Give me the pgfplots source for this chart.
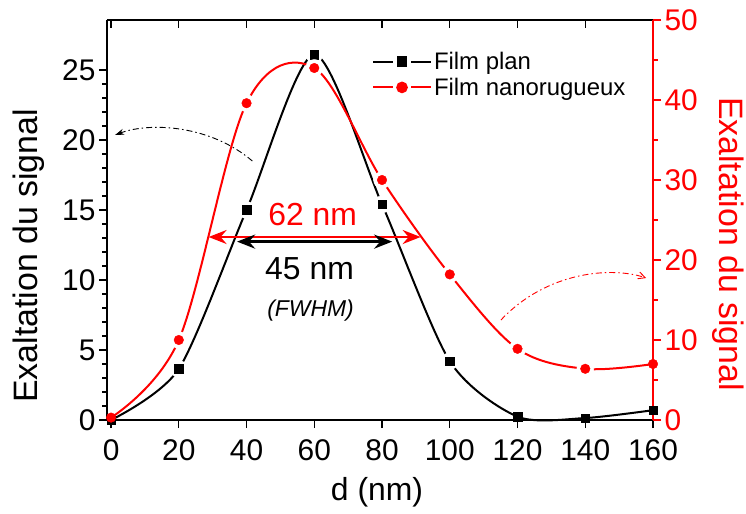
\documentclass[border=0pt]{standalone}
\usepackage{pgfplots}
\pgfplotsset{compat=1.18}
\usepackage{pgfplotstable}
\usepackage{fontspec}
\setmainfont{Liberation Sans}
\usetikzlibrary{arrows.meta}

\pgfplotstableread{
x y
0 0.0
20 3.65
40 15.0
60 26.1
80 15.4
100 4.2
120 0.24
140 0.14
160 0.7
}\plan
\pgfplotstableread{
x y
20 3.65
40 15.0
60 26.1
80 15.4
100 4.2
}\planin
\pgfplotstableread{
x y
0 0.3
20 10.0
40 39.6
60 44.0
80 30.0
100 18.2
120 8.9
140 6.4
160 7.0
}\nano
\pgfplotstableread{
x y
20 10.0
40 39.6
60 44.0
80 30.0
100 18.2
120 8.9
140 6.4
}\nanoin

\pgfplotsset{
  common/.style={
    width=546bp, height=400bp, scale only axis,
    xmin=-1.2, xmax=160,
    xtick={0,20,...,160},
    major tick length=8bp, minor tick length=4.5bp,
    axis line style={line width=1.4bp},
    every tick/.style={line width=1.2bp},
    tick label style={font=\fontsize{30}{34}\selectfont},
    xticklabel style={yshift=-8bp},
    /pgf/number format/assume math mode=true,
    clip=false,
  },
  overlay axis/.style={
    width=546bp, height=400bp, scale only axis,
    xmin=-1.2, xmax=160, clip=false,
    axis lines=none, ticks=none,
  },
}

\begin{document}
\begin{tikzpicture}
\path[use as bounding box] (-107bp,-94bp) rectangle (639bp,420bp);

% top ticks, inward
\begin{axis}[common,
  ymin=0, ymax=28.57,
  axis x line*=top, axis y line=none,
  tick align=inside, xticklabels={},
  every tick/.style={line width=1.2bp, black},
]
\addplot[draw=none] coordinates {(0,0)};
\end{axis}

% left axis (black)
\begin{axis}[common,
  ymin=0, ymax=28.57,
  axis x line*=box, axis y line*=left,
  xtick pos=bottom, ytick pos=left,
  tick align=outside,
  ytick={0,5,...,25}, minor y tick num=4,
  every tick/.style={line width=1.2bp, black},
  xlabel={d (nm)},
  xlabel style={font=\fontsize{32}{36}\selectfont, at={(axis description cs:0.4945,-0.18)}, anchor=center},
  ylabel={Exaltation du signal},
  ylabel style={font=\fontsize{34}{38}\selectfont, at={(axis description cs:-0.144,0.41)}, anchor=center},
]
\addplot[black, line width=2bp, smooth, tension=0.45] table {\plan};

\draw[red, line width=2.2bp, {Stealth[length=18bp,width=14bp,inset=6bp]}-{Stealth[length=18bp,width=14bp,inset=6bp]}]
  (axis cs:28.8,13.07) -- (axis cs:91.4,13.07);
\draw[black, line width=3.2bp, {Stealth[length=18bp,width=14bp,inset=6bp]}-{Stealth[length=18bp,width=14bp,inset=6bp]}]
  (axis cs:37.2,12.74) -- (axis cs:83,12.74);

\node[red, font=\fontsize{32}{34}\selectfont] at (axis cs:59.5,14.7) {62 nm};
\node[black, font=\fontsize{32}{34}\selectfont] at (axis cs:58.6,10.8) {45 nm};
\node[black, font=\fontsize{23}{26}\selectfont\itshape] at (axis cs:58.9,7.8) {(FWHM)};

\draw[black, line width=0.9bp, dash pattern=on 6bp off 3bp on 1.5bp off 3bp, -{Stealth[length=9bp,width=6bp]}]
  (axis cs:41.7,18.5) .. controls (axis cs:29.3,21.07) and (axis cs:11.5,21.29) .. (axis cs:1.2,20.36);
\draw[red, line width=0.9bp, dash pattern=on 6bp off 3bp on 1.5bp off 3bp, -{Straight Barb[length=7bp,width=7bp]}]
  (axis cs:115.1,7.14) .. controls (axis cs:128.4,10.57) and (axis cs:147.6,11.0) .. (axis cs:158.0,10.14);
\end{axis}

% right axis (red)
\begin{axis}[common,
  ymin=0, ymax=50,
  axis x line=none, axis y line*=right,
  ytick pos=right,
  tick align=outside,
  ytick={0,10,...,50}, minor y tick num=1,
  y axis line style={red, line width=1.4bp},
  every tick/.style={line width=1.2bp, red},
  yticklabel style={red},
  ylabel={Exaltation du signal},
  ylabel style={red, font=\fontsize{34}{38}\selectfont, rotate=180, at={(axis description cs:1.137,0.44)}, anchor=center},
  legend style={draw=none, fill=none, font=\fontsize{24}{27}\selectfont,
    at={(rel axis cs:0.485,0.925)}, anchor=north west,
    row sep=3bp, inner sep=0bp},
  legend cell align=left,
  legend image code/.code={%
    \draw (0bp,0bp) -- (20bp,0bp);
    \draw (38bp,0bp) -- (58bp,0bp);
    \draw plot coordinates {(29bp,0bp)};},
]
\addlegendimage{black, line width=2bp, mark=square*, mark size=4.3bp}
\addlegendentry{Film plan}
\addlegendimage{red, line width=2bp, mark=*, mark size=4.8bp}
\addlegendentry{Film nanorugueux}
\addplot[red, line width=2bp, smooth, tension=0.55, forget plot] table {\nano};
\end{axis}

% black markers with gaps
\begin{axis}[overlay axis, ymin=0, ymax=28.57]
\addplot[only marks, mark=*, mark size=8.5bp, mark options={draw=white, fill=white}] table {\planin};
\addplot[only marks, black, mark=square*, mark size=4.3bp] table {\plan};
\end{axis}

% red markers with gaps
\begin{axis}[overlay axis, ymin=0, ymax=50]
\addplot[only marks, mark=*, mark size=8.5bp, mark options={draw=white, fill=white}] table {\nanoin};
\addplot[only marks, red, mark=*, mark size=4.8bp] table {\nano};
\end{axis}
\end{tikzpicture}
\end{document}
